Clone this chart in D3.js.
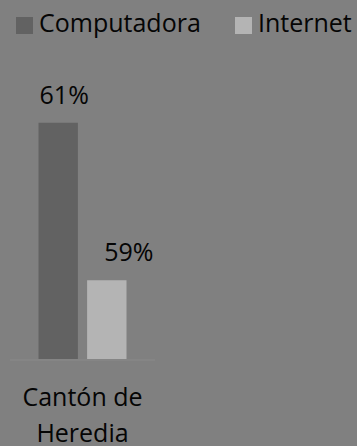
<!DOCTYPE html>
<html>
<head>
<meta charset="utf-8">
<script src="https://cdn.jsdelivr.net/npm/d3@7"></script>
<style>
  html, body { margin: 0; padding: 0; background: #808080; }
  svg { display: block; }
  text { font-family: "Open Sans", sans-serif; fill: #050505; }
</style>
</head>
<body>
<div id="chart"></div>
<script>
var categories = ["Cantón de Heredia"];
var seriesNames = ["Computadora", "Internet"];
var computadora = [61];
var internet = [59];
var colors = ["#626262", "#b4b4b4"];

function init()
{
    var w = 357;
    var h = 446;
    var svg = d3.select("#chart")
                .append("svg")
                .attr("width", w)
                .attr("height", h);

    var rows = categories.map(function(c, i) {
        return {cat: c, values: [computadora[i], internet[i]]};
    });

    var x0 = d3.scaleBand()
               .domain(categories)
               .range([10, 155])
               .paddingInner(0)
               .paddingOuter(0.324);

    var x1 = d3.scaleBand()
               .domain(seriesNames)
               .range([0, x0.bandwidth()])
               .paddingInner(0.19);

    var y = d3.scaleLinear()
              .domain([58, 62])
              .range([359, 44]);

    // baseline
    svg.append("line")
        .attr("x1", 10).attr("x2", 155)
        .attr("y1", 360).attr("y2", 360)
        .attr("stroke", "#8a8a8a")
        .attr("stroke-width", 1);

    var groups = svg.selectAll("g.cat")
        .data(rows)
        .enter()
        .append("g")
        .attr("class", "cat")
        .attr("transform", function(d) { return "translate(" + x0(d.cat) + ",0)"; });

    var labelDx = [6, 22];

    groups.selectAll("rect")
        .data(function(d) { return d.values; })
        .enter()
        .append("rect")
        .attr("x", function(d, i) { return x1(seriesNames[i]); })
        .attr("y", function(d) { return y(d); })
        .attr("width", x1.bandwidth())
        .attr("height", function(d) { return y(58) - y(d); })
        .style("fill", function(d, i) { return colors[i]; });

    groups.selectAll("text.val")
        .data(function(d) { return d.values; })
        .enter()
        .append("text")
        .attr("class", "val")
        .attr("x", function(d, i) { return x1(seriesNames[i]) + x1.bandwidth() / 2 + labelDx[i]; })
        .attr("y", function(d) { return y(d) - 19; })
        .attr("text-anchor", "middle")
        .style("font-size", "25px")
        .text(function(d) { return d + "%"; });

    // category label, wrapped on two lines
    var cx = x0.bandwidth() / 2;
    groups.append("text")
        .attr("y", 406)
        .attr("text-anchor", "middle")
        .style("font-size", "25px")
        .selectAll("tspan")
        .data(function(d) {
            var words = d.cat.split(" ");
            return [words.slice(0, 2).join(" "), words.slice(2).join(" ")];
        })
        .enter()
        .append("tspan")
        .attr("x", cx)
        .attr("dy", function(d, i) { return i ? 36 : 0; })
        .text(function(d) { return d; });

    // legend
    var legX = [16, 235];
    var leg = svg.selectAll("g.leg")
        .data(seriesNames)
        .enter()
        .append("g")
        .attr("class", "leg")
        .attr("transform", function(d, i) { return "translate(" + legX[i] + ",17)"; });

    leg.append("rect")
        .attr("width", 17)
        .attr("height", 17)
        .style("fill", function(d, i) { return colors[i]; });

    leg.append("text")
        .attr("x", 23)
        .attr("y", 15)
        .style("font-size", "25px")
        .text(function(d) { return d; });
}
window.onload = init;
</script>
</body>
</html>
